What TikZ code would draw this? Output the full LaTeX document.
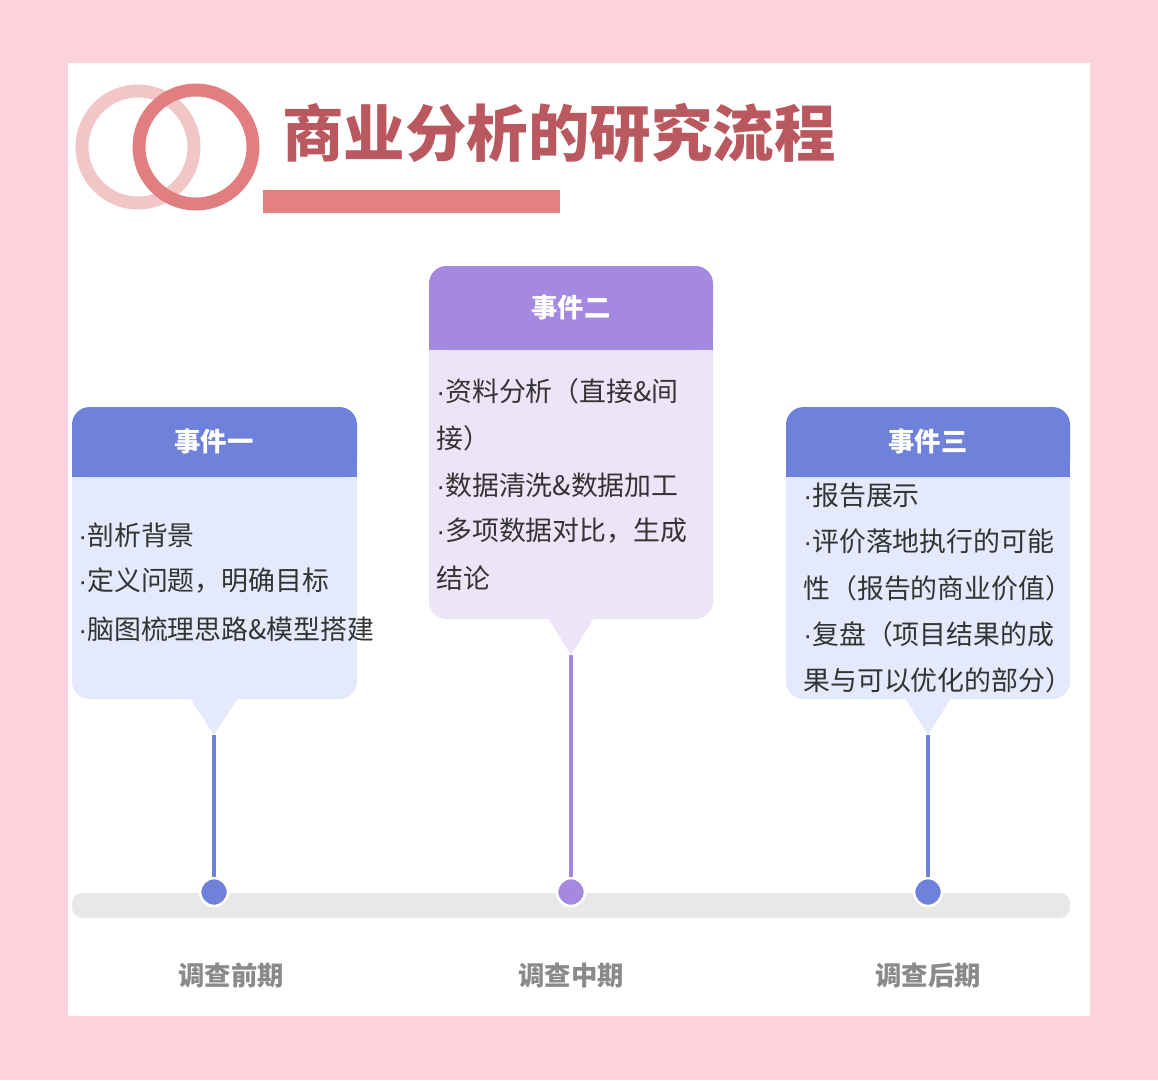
\documentclass[tikz,border=0pt]{standalone}
\usepackage{fontspec}
\setmainfont{Noto Sans CJK SC}
\newfontfamily\latinf{Liberation Sans}
\newcommand\md{{\latinf\char"00B7}}
\definecolor{bgpink}{HTML}{FCD3DC}
\definecolor{ringa}{HTML}{F2C6C6}
\definecolor{ringb}{HTML}{E07E80}
\definecolor{titlec}{HTML}{B9585E}
\definecolor{barc}{HTML}{E38080}
\definecolor{blueh}{HTML}{6F82DB}
\definecolor{blueb}{HTML}{E4EAFB}
\definecolor{purh}{HTML}{A588E0}
\definecolor{purb}{HTML}{EEE4F8}
\definecolor{textc}{HTML}{333333}
\definecolor{labc}{HTML}{8A8A8A}
\tikzset{
  headtxt/.style={text=white,font=\fontsize{15}{18}\selectfont\bfseries},
  item/.style={anchor=west,text=textc,font=\fontsize{15.3}{18}\selectfont,inner sep=0pt},
  phase/.style={text=labc,font=\fontsize{15}{18}\selectfont\bfseries},
  dot/.style={circle,draw=white,line width=1.5pt,minimum size=28*0.02cm,inner sep=0pt},
  stem/.style={line width=2.2pt}
}
\begin{document}
\begin{tikzpicture}[x=0.02cm,y=-0.02cm]
\useasboundingbox (0,0) rectangle (1158,1080);
\fill[bgpink] (0,0) rectangle (1158,1080);
\fill[white] (68,63) rectangle (1090,1016);
% rings
\draw[ringa,line width=13*0.567pt] (138,147) circle (56);
\draw[ringb,line width=13*0.567pt] (196,147) circle (57);
\node[anchor=west,text=titlec,font=\fontsize{35}{40}\selectfont\bfseries,inner sep=0pt] (title) at (282,133) {商业分析的研究流程};
\fill[barc] (263,190) rectangle (560,213);
% timeline bar
\fill[black!9,rounded corners=6] (72,893) rectangle (1070,918);
% card 1
\fill[blueb,rounded corners=10] (72,460) rectangle (357,699);
\fill[blueh,rounded corners=10] (72,407) rectangle (357,477);
\fill[blueh] (72,460) rectangle (357,477);
\fill[blueb] (190,698) -- (238,698) -- (214,735) -- cycle;
\node[headtxt] (h1) at (214,442) {事件一};
\node[item] at (78,535) {\md 剖析背景};
\node[item] at (78,581) {\md 定义问题，明确目标};
\node[item] at (78,629) {\md 脑图梳理思路\&模型搭建};
\coordinate (t1) at (214,735);
\node[dot,fill=blueh] (d1) at (214,892) {};
\draw[blueh,stem] (t1) -- (d1.north);
% card 2
\fill[purb,rounded corners=10] (429,330) rectangle (713,619);
\fill[purh,rounded corners=10] (429,266) rectangle (713,350);
\fill[purh] (429,330) rectangle (713,350);
\fill[purb] (548,618) -- (594,618) -- (571,655) -- cycle;
\node[headtxt] (h2) at (571,308) {事件二};
\node[item] at (436,391) {\md 资料分析（直接\&间};
\node[item] at (436,438) {接）};
\node[item] at (436,485) {\md 数据清洗\&数据加工};
\node[item] at (436,531) {\md 多项数据对比，生成};
\node[item] at (436,578) {结论};
\coordinate (t2) at (571,655);
\node[dot,fill=purh] (d2) at (571,892) {};
\draw[purh,stem] (t2) -- (d2.north);
% card 3
\fill[blueb,rounded corners=10] (786,460) rectangle (1070,699);
\fill[blueh,rounded corners=10] (786,407) rectangle (1070,477);
\fill[blueh] (786,460) rectangle (1070,477);
\fill[blueb] (905,698) -- (951,698) -- (928,735) -- cycle;
\node[headtxt] (h3) at (928,442) {事件三};
\node[item] at (803,495) {\md 报告展示};
\node[item] at (803,541) {\md 评价落地执行的可能};
\node[item] at (803,588) {性（报告的商业价值）};
\node[item] at (803,634) {\md 复盘（项目结果的成};
\node[item] at (803,680) {果与可以优化的部分）};
\coordinate (t3) at (928,735);
\node[dot,fill=blueh] (d3) at (928,892) {};
\draw[blueh,stem] (t3) -- (d3.north);
% phases
\node[phase] (p1) at (231,975) {调查前期};
\node[phase] (p2) at (571,975) {调查中期};
\node[phase] (p3) at (928,975) {调查后期};
\end{tikzpicture}
\end{document}
